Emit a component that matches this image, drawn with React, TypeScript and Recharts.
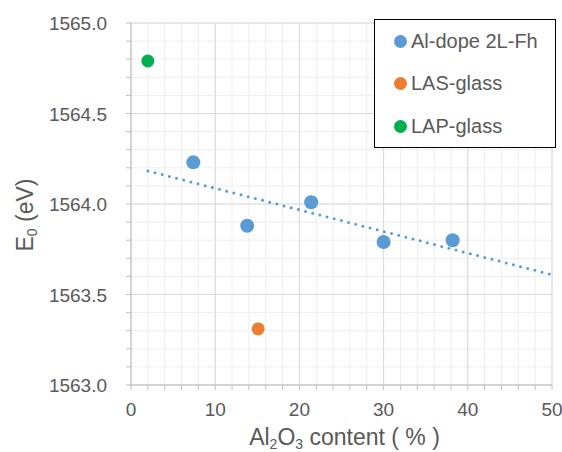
import { ScatterChart, Scatter, XAxis, YAxis, CartesianGrid, Legend, Label } from 'recharts'

const FONT = '"Liberation Sans", Arial, sans-serif'
const TEXT = '#595959'

// Al-dope 2L-Fh samples
const fhX = [7.4, 13.8, 21.4, 30.0, 38.2]
const fhY = [1564.23, 1563.88, 1564.01, 1563.79, 1563.80]
// glasses
const lasX = [15.1]
const lasY = [1563.31]
const lapX = [2.0]
const lapY = [1564.79]

const seriesNames = ['Al-dope 2L-Fh', 'LAS-glass', 'LAP-glass']
const trendRange = [2, 50]

const xMajor = [0, 10, 20, 30, 40, 50]
const xMinor = [0, 2, 4, 6, 8, 10, 12, 14, 16, 18, 20, 22, 24, 26, 28, 30, 32, 34, 36, 38, 40, 42, 44, 46, 48, 50]
const yMajor = [1563.0, 1563.5, 1564.0, 1564.5, 1565.0]
const yMinor = [
  1563.0, 1563.1, 1563.2, 1563.3, 1563.4, 1563.5, 1563.6, 1563.7, 1563.8, 1563.9,
  1564.0, 1564.1, 1564.2, 1564.3, 1564.4, 1564.5, 1564.6, 1564.7, 1564.8, 1564.9, 1565.0,
]

const zip = (xs: number[], ys: number[]) => xs.map((x, i) => ({ x, y: ys[i] }))

// linear least squares trendline over the 2L-Fh points
function trend() {
  const n = fhX.length
  const mx = fhX.reduce((a, b) => a + b, 0) / n
  const my = fhY.reduce((a, b) => a + b, 0) / n
  let sxy = 0, sxx = 0
  fhX.forEach((x, i) => { sxy += (x - mx) * (fhY[i] - my); sxx += (x - mx) ** 2 })
  const k = sxy / sxx
  return trendRange.map(x => ({ x, y: my + k * (x - mx) }))
}

const isMajor = (v: number, majors: number[]) => majors.some(m => Math.abs(m - v) < 1e-6)

function XTick({ x, y, payload }: any) {
  if (!isMajor(payload.value, xMajor)) return null
  return (
    <text x={x} y={y + 24} textAnchor="middle" fill={TEXT} fontSize={19} fontFamily={FONT}>
      {payload.value}
    </text>
  )
}

function YTick({ x, y, payload }: any) {
  if (!isMajor(payload.value, yMajor)) return null
  return (
    <text x={x} y={y + 7} textAnchor="end" fill={TEXT} fontSize={19} fontFamily={FONT}>
      {payload.value.toFixed(1)}
    </text>
  )
}

function XTitle({ viewBox }: any) {
  const cx = viewBox.x + viewBox.width / 2
  return (
    <text x={cx + 3} y={445} textAnchor="middle" fill={TEXT} fontSize={23} fontFamily={FONT}>
      Al<tspan fontSize={14} dy={4}>2</tspan>
      <tspan dy={-4}>O</tspan>
      <tspan fontSize={14} dy={4}>3</tspan>
      <tspan dy={-4}> content ( % )</tspan>
    </text>
  )
}

function YTitle() {
  return (
    <text x={0} y={0} transform="translate(33,215) rotate(-90)" textAnchor="middle" fill={TEXT} fontSize={23} fontFamily={FONT}>
      E<tspan fontSize={14} dy={4}>0</tspan>
      <tspan dy={-4}> (eV)</tspan>
    </text>
  )
}

function LegendBox({ payload }: any) {
  const items = (payload || [])
    .filter((p: any) => seriesNames.includes(p.value))
    .sort((a: any, b: any) => seriesNames.indexOf(a.value) - seriesNames.indexOf(b.value))
  return (
    <div style={{ width: 182, height: 129, border: '1px solid #000', background: '#fff', boxSizing: 'border-box', position: 'relative' }}>
      {items.map((p: any, i: number) => (
        <div key={p.value} style={{ position: 'absolute', left: 19, top: 9 + i * 42.5, display: 'flex', alignItems: 'center', height: 24 }}>
          <div style={{ width: 13, height: 13, borderRadius: '50%', background: p.color, marginRight: 4 }} />
          <span style={{ fontSize: 20, color: TEXT, fontFamily: FONT }}>{p.value}</span>
        </div>
      ))}
    </div>
  )
}

const dot = (r: number, fill: string) => (props: any) => <circle cx={props.cx} cy={props.cy} r={r} fill={fill} />

export default function App() {
  return (
    <div style={{ position: 'absolute', left: 0, top: 0, background: '#fff' }}>
      <ScatterChart width={562} height={452} margin={{ top: 23, right: 10, left: 0, bottom: 0 }}>
        <CartesianGrid stroke="#eeeeee" verticalValues={xMinor} horizontalValues={yMinor} />
        <CartesianGrid stroke="#d9d9d9" verticalValues={xMajor} horizontalValues={yMajor} />
        <XAxis
          type="number" dataKey="x" domain={[0, 50]} ticks={xMinor} interval={0}
          height={67} tick={<XTick />} tickSize={5}
          axisLine={{ stroke: '#bfbfbf' }} tickLine={{ stroke: '#bfbfbf' }}
        >
          <Label content={<XTitle />} />
        </XAxis>
        <YAxis
          type="number" dataKey="y" domain={[1563, 1565]} ticks={yMinor} interval={0}
          width={131} tick={<YTick />} tickSize={5} tickMargin={19}
          axisLine={{ stroke: '#bfbfbf' }} tickLine={{ stroke: '#bfbfbf' }}
        >
          <Label content={<YTitle />} />
        </YAxis>
        <Legend
          verticalAlign="middle" align="center" layout="horizontal"
          wrapperStyle={{ top: 19, left: 374, width: 182 }}
          content={<LegendBox />}
        />
        <Scatter
          name="trend" data={trend()} legendType="none" isAnimationActive={false}
          line={{ stroke: '#5b9bd5', strokeWidth: 3, strokeDasharray: '0 7.4', strokeLinecap: 'round' }}
          shape={() => <g />}
        />
        <Scatter name="Al-dope 2L-Fh" data={zip(fhX, fhY)} fill="#5b9bd5" shape={dot(7, '#5b9bd5')} isAnimationActive={false} />
        <Scatter name="LAS-glass" data={zip(lasX, lasY)} fill="#ed7d31" shape={dot(6.5, '#ed7d31')} isAnimationActive={false} />
        <Scatter name="LAP-glass" data={zip(lapX, lapY)} fill="#00b050" shape={dot(6.5, '#00b050')} isAnimationActive={false} />
      </ScatterChart>
    </div>
  )
}
